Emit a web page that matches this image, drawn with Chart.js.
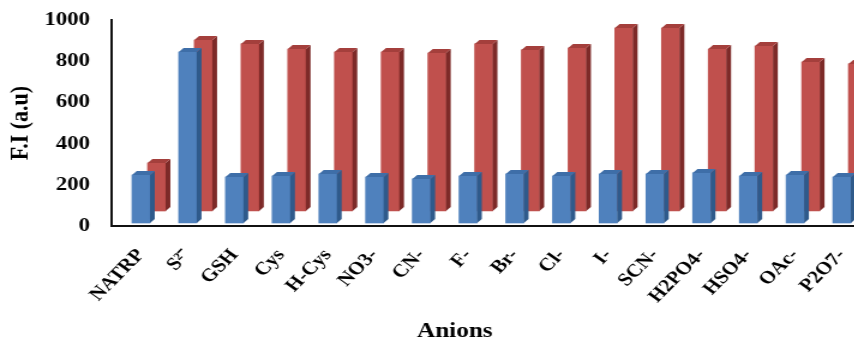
<!DOCTYPE html>
<html>
<head>
<meta charset="utf-8">
<script src="https://cdn.jsdelivr.net/npm/chart.js@4.4.1/dist/chart.umd.min.js"></script>
<style>
  html, body { margin: 0; padding: 0; background: #fff; overflow: hidden; }
</style>
</head>
<body>
<!-- the source picture is stretched sideways, so draw narrow and widen with css -->
<canvas id="anionChart" width="725" height="344" style="width:870px;height:344px"></canvas>
<script>
const anions = ['NATRP', 'S²⁻', 'GSH', 'Cys', 'H-Cys', 'NO3-', 'CN-', 'F-', 'Br-', 'Cl-', 'I-', 'SCN-', 'H2PO4-', 'HSO4-', 'OAc-', 'P2O7-'];
const frontSeries = [233, 830, 223, 228, 238, 223, 214, 228, 238, 228, 238, 238, 243, 228, 233, 223];
const backSeries = [233, 830, 811, 786, 772, 772, 767, 811, 782, 791, 888, 888, 786, 801, 723, 714];
const yTicks = [0, 200, 400, 600, 800, 1000];

const SERIF = '"Liberation Serif", "Times New Roman", serif';

// each series sits one row deeper in the fake 3D floor
const depthShift = [{ dx: 5, dy: -3 }, { dx: 18, dy: -15 }];
const faceColors = [
    { side: '#2F5A8B', top: '#3E6EA8' },
    { side: '#7D2A28', top: '#A43F3C' }
];
const BAR_DEPTH = 4;

const bars3d = {
    id: 'bars3d',
    beforeDatasetDraw(chart, args) {
        const s = depthShift[args.index];
        chart.ctx.save();
        chart.ctx.translate(s.dx, s.dy);
    },
    afterDatasetDraw(chart, args) {
        const ctx = chart.ctx;
        const c = faceColors[args.index];
        const d = BAR_DEPTH;
        args.meta.data.forEach(bar => {
            const { x, y, base, width } = bar.getProps(['x', 'y', 'base', 'width'], true);
            const l = x - width / 2, r = x + width / 2;
            // side face
            ctx.fillStyle = c.side;
            ctx.beginPath();
            ctx.moveTo(r, y);
            ctx.lineTo(r + d, y - d);
            ctx.lineTo(r + d, base - d);
            ctx.lineTo(r, base);
            ctx.closePath();
            ctx.fill();
            // top face
            ctx.fillStyle = c.top;
            ctx.beginPath();
            ctx.moveTo(l, y);
            ctx.lineTo(l + d, y - d);
            ctx.lineTo(r + d, y - d);
            ctx.lineTo(r, y);
            ctx.closePath();
            ctx.fill();
        });
        ctx.restore();
    }
};

// x title sits left of the plot centre in the source, so place it by hand
const xTitle = {
    id: 'xTitle',
    afterDraw(chart) {
        const ctx = chart.ctx;
        ctx.save();
        ctx.font = 'bold 21px ' + SERIF;
        ctx.fillStyle = '#000';
        ctx.textAlign = 'center';
        ctx.textBaseline = 'middle';
        ctx.fillText('Anions', 379, 332);
        ctx.restore();
    }
};

const ctx = document.getElementById('anionChart').getContext('2d');
new Chart(ctx, {
    type: 'bar',
    data: {
        labels: anions,
        datasets: [
            { label: 'front', data: frontSeries, backgroundColor: '#4F81BD', grouped: false, barThickness: 15, clip: false },
            { label: 'back', data: backSeries, backgroundColor: '#C0504D', grouped: false, barThickness: 15, clip: false }
        ]
    },
    options: {
        responsive: false,
        devicePixelRatio: 1,
        animation: false,
        events: [],
        layout: { padding: { top: 20, right: 9, bottom: 0, left: 0 } },
        plugins: {
            legend: { display: false },
            tooltip: { enabled: false }
        },
        scales: {
            x: {
                grid: { display: false, drawTicks: false },
                border: { display: true, color: '#111', width: 2 },
                ticks: {
                    autoSkip: false, minRotation: 50, maxRotation: 50,
                    padding: 19, labelOffset: 5, color: '#000',
                    font: { family: SERIF, size: 18, weight: 'bold' }
                },
                afterFit(scale) {
                    scale.height = 118;
                    scale.paddingLeft = 0;
                    scale.paddingRight = 0;
                }
            },
            y: {
                min: 0, max: 1000,
                afterBuildTicks(scale) { scale.ticks = yTicks.map(v => ({ value: v })); },
                grid: { display: false, drawTicks: false },
                border: { display: true, color: '#111', width: 2 },
                ticks: {
                    padding: 18, color: '#000',
                    font: { family: SERIF, size: 19, weight: 'bold' },
                    callback: v => String(v)
                },
                title: {
                    display: true, text: 'F.I (a.u)', color: '#000',
                    font: { family: SERIF, size: 22, weight: 'bold' },
                    padding: { top: 4, bottom: 0 }
                },
                afterFit(scale) {
                    scale.width = 93;
                    scale.paddingTop = 0;
                    scale.paddingBottom = 0;
                }
            }
        }
    },
    plugins: [bars3d, xTitle]
});
</script>
</body>
</html>
